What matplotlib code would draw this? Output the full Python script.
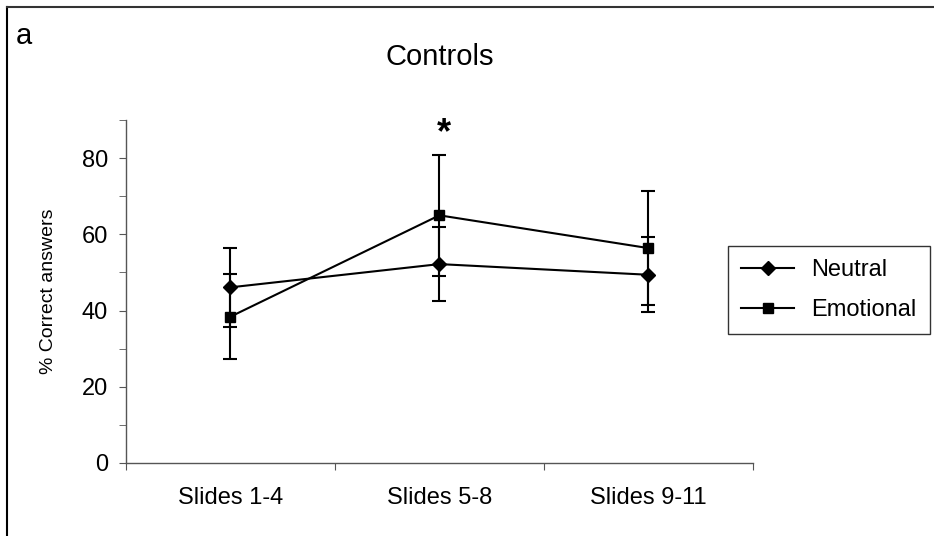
import matplotlib
matplotlib.use("Agg")
import matplotlib.pyplot as plt
from matplotlib.lines import Line2D

plt.rcParams['font.family'] = ['Liberation Sans', 'DejaVu Sans']

# donnees
categories = ["Slides 1-4", "Slides 5-8", "Slides 9-11"]
neutral = [46.1, 52.2, 49.4]
neutral_sd = [10.4, 9.8, 9.8]
emotional = [38.4, 65.0, 56.4]
emotional_sd = [11.1, 15.9, 15.0]

fig = plt.figure(figsize=(9.34, 5.36), dpi=100)
ax = fig.add_axes([0.1349, 0.1362, 0.806 - 0.1349, 0.776 - 0.1362])

x = list(range(len(categories)))
common = dict(color="black", lw=1.5, elinewidth=1.5, capsize=5, capthick=1.5, mfc="black", mec="black")
ax.errorbar(x, neutral, yerr=neutral_sd, marker="D", ms=7.5, **common)
ax.errorbar(x, emotional, yerr=emotional_sd, marker="s", ms=7, **common)

ax.set_xlim(-0.5, len(categories) - 0.5)
ax.set_ylim(0, 90)
ax.set_yticks([0, 20, 40, 60, 80])
ax.set_yticks([10, 30, 50, 70, 90], minor=True)
ax.set_xticks([-0.5, 0.5, 1.5, 2.5])
ax.set_xticklabels([])
ax.set_xticks(x, minor=True)
ax.set_xticklabels(categories, minor=True)
ax.tick_params(axis="x", which="minor", length=0, pad=17, labelsize=17)
ax.tick_params(axis="x", which="major", length=5, color="#555555")
ax.tick_params(axis="y", which="both", length=5, color="#555555", labelsize=17, pad=8)

for s in ["top", "right"]:
    ax.spines[s].set_visible(False)
for s in ["left", "bottom"]:
    ax.spines[s].set_color("#555555")
    ax.spines[s].set_linewidth(1)

ax.set_ylabel("% Correct answers", fontsize=14, labelpad=18)

# asterisque au-dessus de Slides 5-8
ax.text(1.02, emotional[1] + emotional_sd[1] + 5.5, "*", ha="center", va="center",
        fontsize=26, fontweight="bold")

fig.text(440 / 934, 1 - 57 / 536, "Controls", ha="center", va="center", fontsize=21)
fig.text(16 / 934, 1 - 36 / 536, "a", ha="left", va="center", fontsize=21)

handles = [Line2D([], [], color="black", lw=1.5, marker="D", ms=7.5, mfc="black"),
           Line2D([], [], color="black", lw=1.5, marker="s", ms=7, mfc="black")]
leg = fig.legend(handles, ["Neutral", "Emotional"], loc="center",
                 bbox_to_anchor=(829 / 934, 1 - 290 / 536), frameon=True,
                 fancybox=False, edgecolor="black", fontsize=17, handlelength=2.25,
                 borderpad=0.55, labelspacing=0.75, handletextpad=0.72, borderaxespad=0)
leg.get_frame().set_linewidth(1)

# cadre partiel autour de la figure
fig.add_artist(Line2D([7 / 934, 7 / 934], [0, 1 - 7 / 536], transform=fig.transFigure, color="black", lw=1.5))
fig.add_artist(Line2D([7 / 934, 1], [1 - 7 / 536, 1 - 7 / 536], transform=fig.transFigure, color="#333333", lw=1.5))

fig.savefig("out.png", dpi=100)
